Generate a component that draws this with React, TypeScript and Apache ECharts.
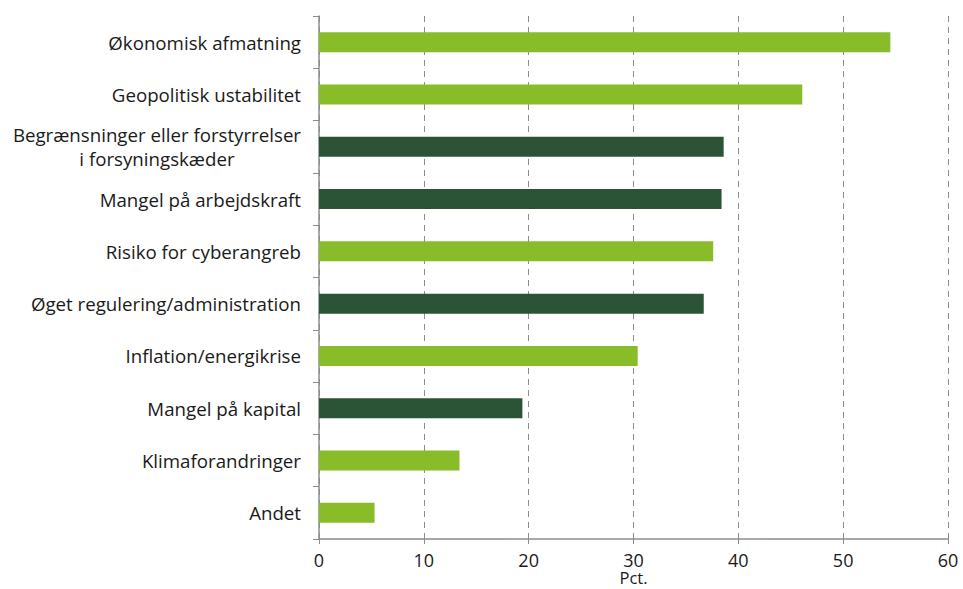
import React, { useEffect, useRef } from "react";
import * as echarts from "echarts";

const categories = [
  "Økonomisk afmatning",
  "Geopolitisk ustabilitet",
  "Begrænsninger eller forstyrrelser\ni forsyningskæder",
  "Mangel på arbejdskraft",
  "Risiko for cyberangreb",
  "Øget regulering/administration",
  "Inflation/energikrise",
  "Mangel på kapital",
  "Klimaforandringer",
  "Andet",
];
const values = [54.5, 46.1, 38.6, 38.4, 37.6, 36.7, 30.4, 19.4, 13.4, 5.3];
const isDark = [false, false, true, true, false, true, false, true, false, false];
const xTicks = { min: 0, max: 60, interval: 10 };
const xName = "Pct.";

const LIGHT = "#88bc29";
const DARK = "#2b5336";

export default function App() {
  const ref = useRef<HTMLDivElement>(null);
  useEffect(() => {
    if (!ref.current) return;
    const chart = echarts.init(ref.current, undefined, { renderer: "svg" });
    const font = "'Open Sans', 'Noto Sans', sans-serif";
    chart.setOption({
      animation: false,
      grid: {
        left: 319,
        right: 15,
        top: 16,
        bottom: 50,
        containLabel: false,
        outerBoundsMode: "none",
      },
      xAxis: {
        type: "value",
        min: xTicks.min,
        max: xTicks.max,
        interval: xTicks.interval,
        name: xName,
        nameLocation: "middle",
        nameGap: 30,
        nameMoveOverlap: false,
        nameTextStyle: { color: "#1a1a1a", fontSize: 16.5, fontFamily: font, lineHeight: 16 },
        axisLine: { show: true, lineStyle: { color: "#8c8c8c", width: 1.5 } },
        axisTick: { show: true, length: 5, lineStyle: { color: "#8c8c8c" } },
        axisLabel: { color: "#1a1a1a", fontSize: 18, fontFamily: font, margin: 12, lineHeight: 18 },
        splitLine: { show: true, lineStyle: { color: "#8c8c8c", type: [6, 5], width: 1 } },
      },
      yAxis: {
        type: "category",
        inverse: true,
        data: categories,
        axisLine: { show: true, lineStyle: { color: "#8c8c8c", width: 1.5 } },
        axisTick: { show: true, length: 6, lineStyle: { color: "#8c8c8c" } },
        axisLabel: {
          color: "#1a1a1a",
          fontSize: 18.7,
          fontFamily: font,
          margin: 18,
          lineHeight: 24,
          formatter: (v: string) =>
            v.split("\n").map((l) => `{a|${l}}`).join("\n"),
          rich: {
            a: { align: "center", fontSize: 18.7, fontFamily: font, color: "#1a1a1a", lineHeight: 24 },
          },
        },
        splitLine: { show: false },
      },
      series: [
        {
          type: "bar",
          barWidth: 20,
          data: values.map((v, i) => ({
            value: v,
            itemStyle: { color: isDark[i] ? DARK : LIGHT },
          })),
        },
      ],
    });
    return () => chart.dispose();
  }, []);
  return (
    <div
      ref={ref}
      style={{ position: "absolute", left: 0, top: 0, width: 963, height: 589 }}
    />
  );
}
